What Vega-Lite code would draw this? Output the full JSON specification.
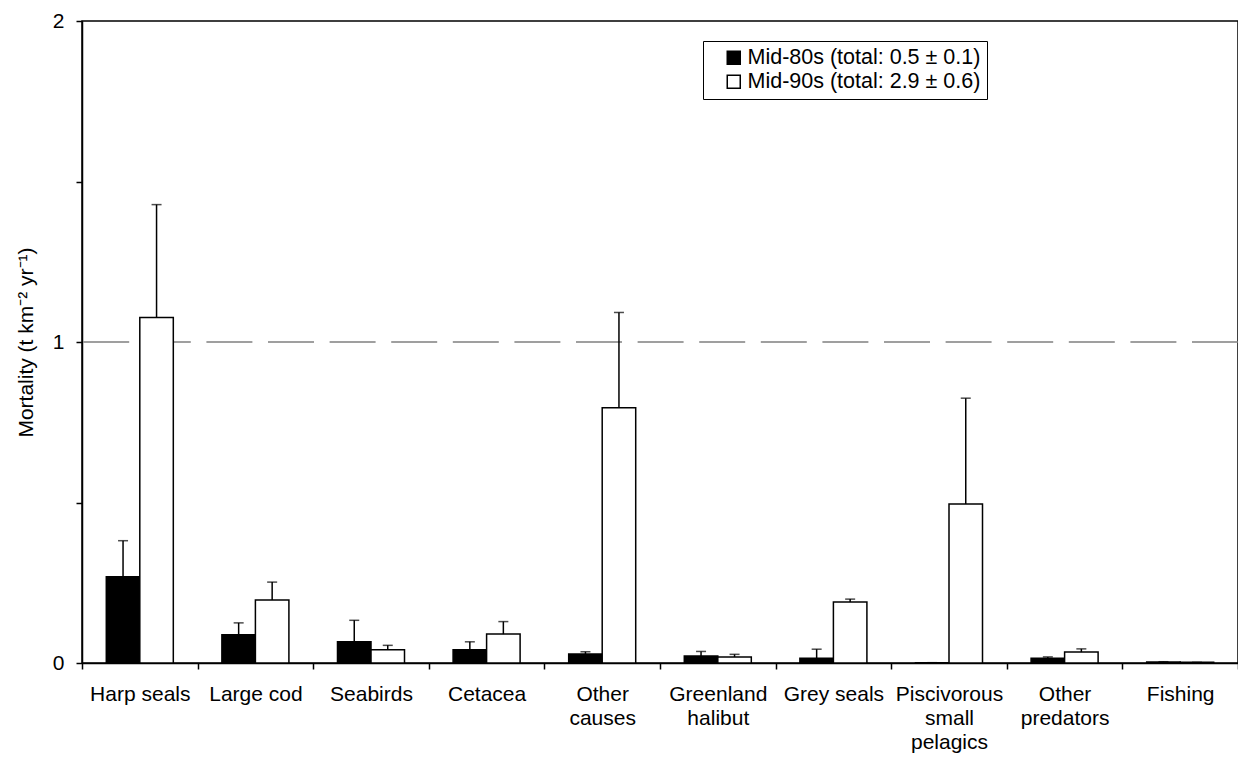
{
  "$schema": "https://vega.github.io/schema/vega-lite/v6.json",
  "width": 1156,
  "height": 642,
  "autosize": {"type": "none"},
  "padding": {"left": 82, "top": 21, "right": 0, "bottom": 96},
  "background": "white",
  "config": {
    "font": "Liberation Sans",
    "view": {"stroke": "black", "strokeWidth": 1.5},
    "axis": {
      "domainColor": "black",
      "domainWidth": 1.5,
      "tickColor": "black",
      "tickWidth": 1.5,
      "tickSize": 6,
      "labelColor": "black",
      "labelFont": "Liberation Sans",
      "labelFontSize": 21,
      "titleFont": "Liberation Sans",
      "titleFontSize": 21,
      "titleFontWeight": "normal",
      "titleColor": "black",
      "grid": false
    },
    "legend": {
      "labelFont": "Liberation Sans",
      "labelFontSize": 21.5,
      "labelColor": "black"
    }
  },
  "layer": [
    {
      "data": {"values": [{"reference": 1}]},
      "mark": {"type": "rule", "color": "#808080", "strokeWidth": 1.5, "strokeDash": [46, 15.6]},
      "encoding": {
        "y": {"field": "reference", "type": "quantitative", "scale": {"domain": [0, 2]}}
      }
    },
    {
      "data": {
        "values": [
          {"category": "Harp seals", "period": "Mid-80s (total: 0.5 ± 0.1)", "value": 0.269, "upper": 0.381},
          {"category": "Harp seals", "period": "Mid-90s (total: 2.9 ± 0.6)", "value": 1.076, "upper": 1.428},
          {"category": "Large cod", "period": "Mid-80s (total: 0.5 ± 0.1)", "value": 0.088, "upper": 0.125},
          {"category": "Large cod", "period": "Mid-90s (total: 2.9 ± 0.6)", "value": 0.196, "upper": 0.252},
          {"category": "Seabirds", "period": "Mid-80s (total: 0.5 ± 0.1)", "value": 0.066, "upper": 0.133},
          {"category": "Seabirds", "period": "Mid-90s (total: 2.9 ± 0.6)", "value": 0.041, "upper": 0.055},
          {"category": "Cetacea", "period": "Mid-80s (total: 0.5 ± 0.1)", "value": 0.041, "upper": 0.066},
          {"category": "Cetacea", "period": "Mid-90s (total: 2.9 ± 0.6)", "value": 0.090, "upper": 0.129},
          {"category": "Other causes", "period": "Mid-80s (total: 0.5 ± 0.1)", "value": 0.028, "upper": 0.035},
          {"category": "Other causes", "period": "Mid-90s (total: 2.9 ± 0.6)", "value": 0.795, "upper": 1.092},
          {"category": "Greenland halibut", "period": "Mid-80s (total: 0.5 ± 0.1)", "value": 0.022, "upper": 0.036},
          {"category": "Greenland halibut", "period": "Mid-90s (total: 2.9 ± 0.6)", "value": 0.019, "upper": 0.027},
          {"category": "Grey seals", "period": "Mid-80s (total: 0.5 ± 0.1)", "value": 0.015, "upper": 0.043},
          {"category": "Grey seals", "period": "Mid-90s (total: 2.9 ± 0.6)", "value": 0.190, "upper": 0.199},
          {"category": "Piscivorous small pelagics", "period": "Mid-80s (total: 0.5 ± 0.1)", "value": 0.001, "upper": 0.001},
          {"category": "Piscivorous small pelagics", "period": "Mid-90s (total: 2.9 ± 0.6)", "value": 0.495, "upper": 0.825},
          {"category": "Other predators", "period": "Mid-80s (total: 0.5 ± 0.1)", "value": 0.015, "upper": 0.019},
          {"category": "Other predators", "period": "Mid-90s (total: 2.9 ± 0.6)", "value": 0.034, "upper": 0.044},
          {"category": "Fishing", "period": "Mid-80s (total: 0.5 ± 0.1)", "value": 0.003, "upper": 0.004},
          {"category": "Fishing", "period": "Mid-90s (total: 2.9 ± 0.6)", "value": 0.002, "upper": 0.002}
        ]
      },
      "encoding": {
        "x": {
          "field": "category",
          "type": "nominal",
          "sort": null,
          "scale": {"paddingInner": 0, "paddingOuter": 0},
          "axis": {
            "title": null,
            "labelAngle": 0,
            "tickBand": "extent",
            "labelPadding": 14,
            "labelLineHeight": 24,
            "labelBaseline": "top",
            "labelExpr": "length(datum.label) > 10 ? split(datum.label, ' ') : datum.label"
          }
        },
        "xOffset": {
          "field": "period",
          "type": "nominal",
          "sort": null,
          "scale": {"paddingOuter": 0.725, "paddingInner": 0}
        }
      },
      "layer": [
        {
          "mark": {"type": "bar", "stroke": "black", "strokeWidth": 1.5},
          "encoding": {
            "y": {
              "field": "value",
              "type": "quantitative",
              "scale": {"domain": [0, 2]},
              "axis": {
                "title": "Mortality (t km⁻² yr⁻¹)",
                "values": [0, 0.5, 1, 1.5, 2],
                "labelExpr": "datum.value % 1 === 0 ? format(datum.value, 'd') : ''",
                "labelPadding": 12,
                "titlePadding": 16
              }
            },
            "fill": {
              "field": "period",
              "type": "nominal",
              "scale": {
                "domain": ["Mid-80s (total: 0.5 ± 0.1)", "Mid-90s (total: 2.9 ± 0.6)"],
                "range": ["black", "white"]
              },
              "legend": {
                "title": null,
                "orient": "none",
                "legendX": 621,
                "legendY": 20,
                "strokeColor": "black",
                "fillColor": "white",
                "padding": 6,
                "symbolType": "square",
                "symbolSize": 169,
                "symbolStrokeColor": "black",
                "symbolStrokeWidth": 1.5,
                "symbolOffset": 14,
                "labelOffset": 3,
                "rowPadding": 1,
                "labelLimit": 400
              }
            }
          }
        },
        {
          "mark": {"type": "rule", "color": "black", "strokeWidth": 1.5},
          "encoding": {
            "y": {"field": "value", "type": "quantitative"},
            "y2": {"field": "upper"}
          }
        },
        {
          "mark": {"type": "tick", "color": "black", "thickness": 1.5, "size": 10},
          "encoding": {
            "y": {"field": "upper", "type": "quantitative"}
          }
        }
      ]
    }
  ]
}
